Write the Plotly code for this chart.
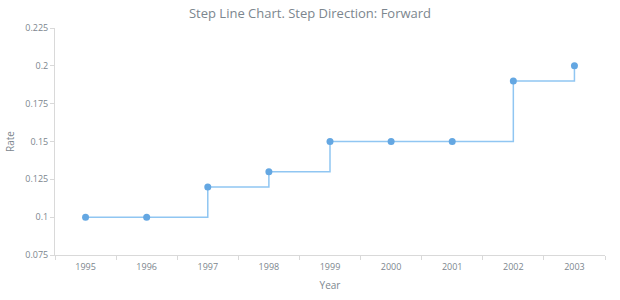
import plotly.graph_objects as go

years = ["1995", "1996", "1997", "1998", "1999", "2000", "2001", "2002", "2003"]
rates = [0.1, 0.1, 0.12, 0.13, 0.15, 0.15, 0.15, 0.19, 0.2]
y_ticks = [0.075, 0.1, 0.125, 0.15, 0.175, 0.2, 0.225]
y_tick_labels = ["0.075", "0.1", "0.125", "0.15", "0.175", "0.2", "0.225"]

fig = go.Figure()
fig.add_trace(go.Scatter(
    x=years, y=rates, mode="lines+markers",
    line=dict(shape="hv", color="#90c6f2", width=1.5),
    marker=dict(color="#64a7e2", size=7),
))

axis_color = "#d9d9d9"
tick_font = dict(size=9, color="#7c868e")
fig.update_layout(
    width=620, height=300,
    margin=dict(l=55, r=15, t=28, b=45),
    paper_bgcolor="white", plot_bgcolor="white",
    font=dict(family="Open Sans, sans-serif", color="#7c868e"),
    title=dict(text="Step Line Chart. Step Direction: Forward", x=0.5, xanchor="center",
               y=0.955, yanchor="middle", font=dict(size=13, color="#7c868e")),
    showlegend=False,
    xaxis=dict(
        type="category", range=[-0.5, 8.5], automargin=False,
        title=dict(text="Year", font=dict(size=10, color="#7c868e"), standoff=10),
        showline=True, linecolor=axis_color, linewidth=1,
        ticks="outside", tickson="boundaries", ticklen=4, tickcolor=axis_color,
        ticklabelstandoff=3,
        showgrid=False, tickfont=tick_font, zeroline=False,
    ),
    yaxis=dict(
        range=[0.075, 0.225], tickvals=y_ticks, ticktext=y_tick_labels, automargin=False,
        title=dict(text="Rate", font=dict(size=10, color="#7c868e"), standoff=8),
        showline=True, linecolor=axis_color, linewidth=1,
        ticks="outside", ticklen=4, tickcolor=axis_color,
        showgrid=False, tickfont=tick_font, zeroline=False,
    ),
)

fig.write_html("out.html")
